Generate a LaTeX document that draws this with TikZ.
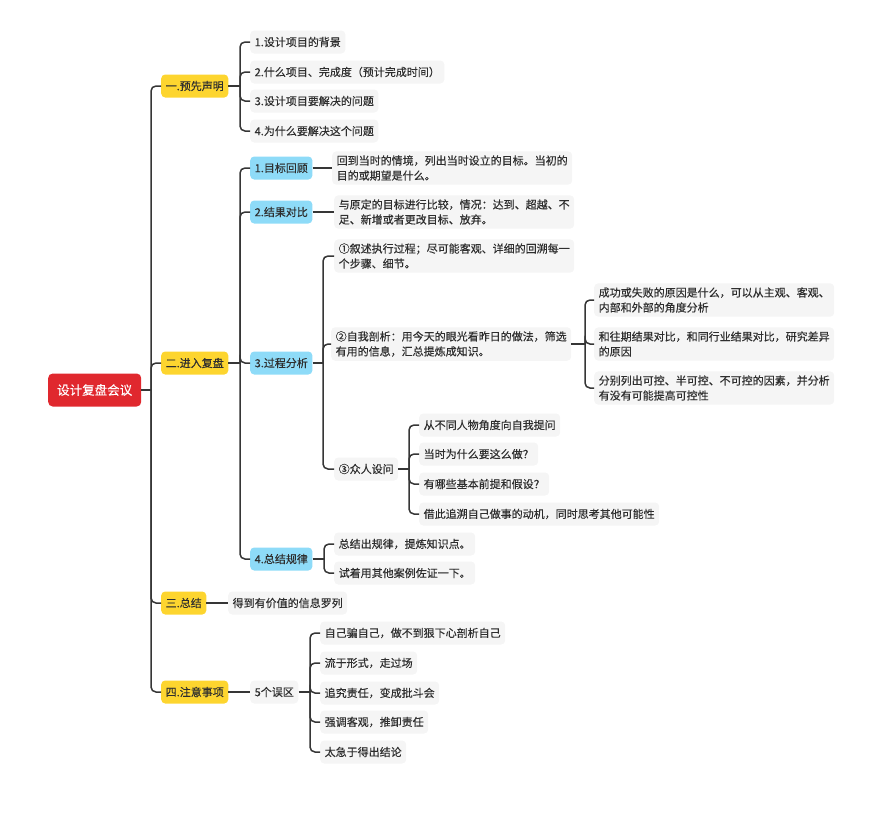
\documentclass[tikz,border=0pt]{standalone}
\usepackage{fontspec}
\setmainfont[FakeBold=0.3]{Noto Sans CJK SC}
\usetikzlibrary{positioning}

\definecolor{rootred}{HTML}{E0282E}
\definecolor{mainyellow}{HTML}{FDD52F}
\definecolor{subblue}{HTML}{8EDBF8}
\definecolor{leafgray}{HTML}{F5F5F5}
\definecolor{linegray}{HTML}{363636}
\definecolor{textgray}{HTML}{2E2E2E}

\tikzset{
  root/.style={fill=rootred, text=white, rounded corners=4.5pt, minimum height=33pt, inner xsep=9pt, font=\fontsize{12.5}{15}\selectfont},
  mainbox/.style={fill=mainyellow, text=textgray, rounded corners=4pt, minimum height=23pt, inner xsep=4.5pt, font=\fontsize{11}{15}\selectfont},
  subbox/.style={mainbox, fill=subblue},
  leaf/.style={fill=leafgray, text=textgray, rounded corners=4pt, minimum height=23pt, inner xsep=4.5pt, inner ysep=4pt, align=left, font=\fontsize{11}{15}\selectfont},
  link/.style={draw=linegray, line width=1.5pt, rounded corners=5pt},
}

\begin{document}
\begin{tikzpicture}[x=1pt, y=-1pt]
		\useasboundingbox (0,0) rectangle (873,812);

		% Root
		\node[root, anchor=west] (root) at (48,390) {设计复盘会议};

		% Main branches (yellow)
		\node[mainbox, anchor=west] (pre) at (161,86) {一.预先声明};
		\node[mainbox, anchor=west] (enter) at (161,363) {二.进入复盘};
		\node[mainbox, anchor=west] (sum) at (161,603) {三.总结};
		\node[mainbox, anchor=west] (note) at (161,692) {四.注意事项};

		\coordinate (trunk) at (151,390);
		\draw[link] (root.east) -- (trunk);
		\foreach \n in {pre,enter,sum,note}
			\draw[link] (trunk) |- (\n.west);

		% 一. children
		\node[leaf, anchor=west] (pre1) at (250,42) {1.设计项目的背景};
		\node[leaf, anchor=west] (pre2) at (250,72) {2.什么项目、完成度（预计完成时间）};
		\node[leaf, anchor=west] (pre3) at (250,101) {3.设计项目要解决的问题};
		\node[leaf, anchor=west] (pre4) at (250,131) {4.为什么要解决这个问题};

		\coordinate (preb) at (240,86);
		\draw[link] (pre.east) -- (preb);
		\foreach \n in {pre1,pre2,pre3,pre4}
			\draw[link] (preb) |- (\n.west);

		% 二. children (blue)
		\node[subbox, anchor=west] (goal) at (250,168) {1.目标回顾};
		\node[subbox, anchor=west] (result) at (250,212) {2.结果对比};
		\node[subbox, anchor=west] (process) at (250,363) {3.过程分析};
		\node[subbox, anchor=west] (rule) at (250,559) {4.总结规律};

		\coordinate (enterb) at (240,363);
		\draw[link] (enter.east) -- (enterb);
		\foreach \n in {goal,result,process,rule}
			\draw[link] (enterb) |- (\n.west);

		\node[leaf, anchor=west] (goalt) at (332,168) {回到当时的情境，列出当时设立的目标。当初的\\目的或期望是什么。};
		\node[leaf, anchor=west] (resultt) at (334,212) {与原定的目标进行比较，情况：达到、超越、不\\足、新增或者更改目标、放弃。};
		\draw[link] (goal.east) -- (goalt.west);
		\draw[link] (result.east) -- (resultt.west);

		% 3.过程分析
		\node[leaf, anchor=west] (narrate) at (334,256) {①叙述执行过程；尽可能客观、详细的回溯每一\\个步骤、细节。};
		\node[leaf, anchor=west] (self) at (331,344) {②自我剖析：用今天的眼光看昨日的做法，筛选\\有用的信息，汇总提炼成知识。};
		\node[leaf, anchor=west] (ask) at (334,469) {③众人设问};

		\coordinate (procb) at (323,363);
		\draw[link] (process.east) -- (procb);
		\foreach \n in {narrate,self,ask}
			\draw[link] (procb) |- (\n.west);

		% ②自我剖析
		\node[leaf, anchor=west] (reason) at (594,300) {成功或失败的原因是什么，可以从主观、客观、\\内部和外部的角度分析};
		\node[leaf, anchor=west] (compare) at (594,344) {和往期结果对比，和同行业结果对比，研究差异\\的原因};
		\node[leaf, anchor=west] (factor) at (594,388) {分别列出可控、半可控、不可控的因素，并分析\\有没有可能提高可控性};

		\coordinate (selfb) at (585,344);
		\draw[link] (self.east) -- (selfb);
		\foreach \n in {reason,compare,factor}
			\draw[link] (selfb) |- (\n.west);

		% ③众人设问
		\node[leaf, anchor=west] (q1) at (419,425) {从不同人物角度向自我提问};
		\node[leaf, anchor=west] (q2) at (419,454) {当时为什么要这么做？};
		\node[leaf, anchor=west] (q3) at (419,484) {有哪些基本前提和假设？};
		\node[leaf, anchor=west] (q4) at (419,514) {借此追溯自己做事的动机，同时思考其他可能性};

		\coordinate (askb) at (409,469);
		\draw[link] (ask.east) -- (askb);
		\foreach \n in {q1,q2,q3,q4}
			\draw[link] (askb) |- (\n.west);

		% 4.总结规律
		\node[leaf, anchor=west] (rule1) at (334,544) {总结出规律，提炼知识点。};
		\node[leaf, anchor=west] (rule2) at (334,573) {试着用其他案例佐证一下。};

		\coordinate (ruleb) at (324,559);
		\draw[link] (rule.east) -- (ruleb);
		\foreach \n in {rule1,rule2}
			\draw[link] (ruleb) |- (\n.west);

		% 三.总结
		\node[leaf, anchor=west] (sumt) at (228,603) {得到有价值的信息罗列};
		\draw[link] (sum.east) -- (sumt.west);

		% 四.注意事项
		\node[leaf, anchor=west] (traps) at (250,692) {5个误区};
		\draw[link] (note.east) -- (traps.west);

		\node[leaf, anchor=west] (trap1) at (320,633) {自己骗自己，做不到狠下心剖析自己};
		\node[leaf, anchor=west] (trap2) at (320,663) {流于形式，走过场};
		\node[leaf, anchor=west] (trap3) at (320,693) {追究责任，变成批斗会};
		\node[leaf, anchor=west] (trap4) at (320,722) {强调客观，推卸责任};
		\node[leaf, anchor=west] (trap5) at (320,752) {太急于得出结论};

		\coordinate (trapb) at (310,692);
		\draw[link] (traps.east) -- (trapb);
		\foreach \n in {trap1,trap2,trap3,trap4,trap5}
			\draw[link] (trapb) |- (\n.west);

	\end{tikzpicture}
\end{document}
